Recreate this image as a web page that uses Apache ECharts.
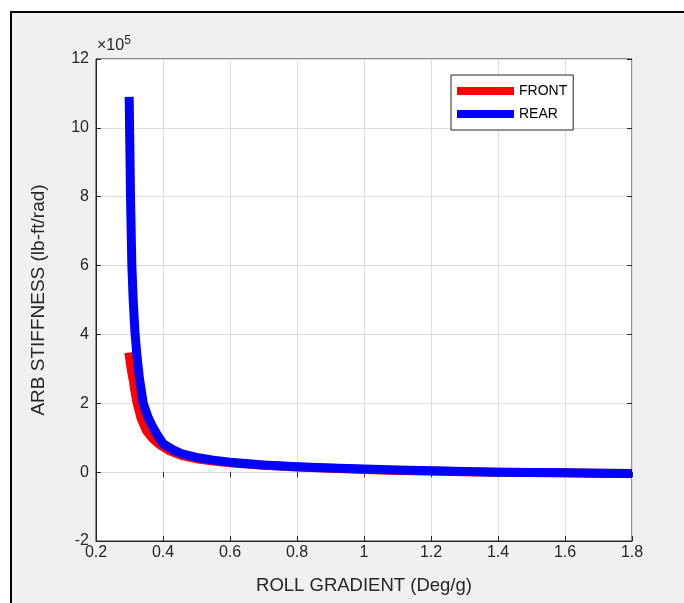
<!DOCTYPE html>
<html lang="en">
  <head>
    <meta charset="UTF-8" />
    <title>ARB stiffness vs roll gradient</title>
    <script src="https://cdn.jsdelivr.net/npm/echarts@6/dist/echarts.min.js"></script>
    <style>
      html, body { margin: 0; padding: 0; background: #fff; overflow: hidden; }
      /* gray figure window with black edge (left + top only visible) */
      #frame {
        position: absolute; left: 10px; top: 11px;
        width: 700px; height: 620px;
        background: #f0f0f0; border: 2px solid #000;
      }
      #main { position: absolute; left: 0; top: 0; width: 684px; height: 603px; }
    </style>
  </head>
  <body>
    <div id="frame"></div>
    <div id="main"></div>
    <script>
      // values, stiffness in units of 1e5 lb-ft/rad
      const rearX = [0.299, 0.301, 0.303, 0.307, 0.311, 0.316, 0.322, 0.33, 0.341, 0.355, 0.37, 0.385, 0.4, 0.43, 0.46, 0.5, 0.55, 0.6, 0.7, 0.8, 0.9, 1.0, 1.1, 1.2, 1.3, 1.4, 1.5, 1.6, 1.7, 1.8];
      const rearY = [10.9, 9.5, 8.0, 6.0, 5.0, 4.1, 3.4, 2.7, 2.0, 1.6, 1.3, 1.05, 0.83, 0.65, 0.52, 0.43, 0.35, 0.29, 0.21, 0.16, 0.12, 0.09, 0.06, 0.04, 0.02, 0.0, -0.01, -0.02, -0.03, -0.04];
      const frontX = [0.298, 0.305, 0.311, 0.317, 0.323, 0.335, 0.351, 0.37, 0.39, 0.42, 0.46, 0.5, 0.55, 0.6, 0.7, 0.8, 0.9, 1.0, 1.1, 1.2, 1.3, 1.4, 1.5, 1.6, 1.7, 1.8];
      const frontY = [3.47, 3.0, 2.68, 2.3, 2.0, 1.55, 1.2, 0.97, 0.8, 0.62, 0.47, 0.39, 0.32, 0.27, 0.2, 0.15, 0.11, 0.08, 0.05, 0.03, 0.01, 0.0, -0.01, -0.02, -0.03, -0.04];

      const ink = "#262626";
      const font = '"Liberation Sans", Arial, Helvetica, sans-serif';

      const pairs = (xs, ys) => xs.map((x, i) => [x, ys[i]]);

      const chart = echarts.init(document.getElementById("main"));

      const option = {
        animation: false,
        textStyle: { fontFamily: font },
        grid: {
          left: 96, right: 52, top: 59, bottom: 62,
          show: true, backgroundColor: "#fff",
          borderColor: ink, borderWidth: 1,
        },
        // exponent label above the y axis, like matlab does
        graphic: [
          {
            type: "text", left: 97, top: 35,
            style: {
              text: "{m|×10}{s|5}",
              rich: {
                m: { fontSize: 16, fill: ink, fontFamily: font },
                s: { fontSize: 12, fill: ink, fontFamily: font, padding: [0, 0, 10, 0] },
              },
            },
          },
        ],
        legend: {
          orient: "vertical",
          left: 451, top: 75,
          padding: [8, 6, 8, 6],
          itemWidth: 57, itemHeight: 8, itemGap: 7,
          icon: "rect",
          backgroundColor: "#fff",
          borderColor: ink, borderWidth: 1,
          textStyle: { fontSize: 14, color: "#000", lineHeight: 16, fontFamily: font },
          data: ["FRONT", "REAR"],
        },
        xAxis: [
          {
            type: "value", min: 0.2, max: 1.8, interval: 0.2,
            name: "ROLL GRADIENT (Deg/g)", nameLocation: "middle", nameGap: 35,
            nameTextStyle: { fontSize: 18.5, color: ink },
            axisLine: { show: true, onZero: false, lineStyle: { color: ink } },
            axisTick: { inside: true, length: 5, lineStyle: { color: ink } },
            axisLabel: { fontSize: 16, color: ink, margin: 4 },
            splitLine: { show: true, lineStyle: { color: "#dcdcdc" } },
          },
          {
            type: "value", position: "top", min: 0.2, max: 1.8, interval: 0.2,
            axisLine: { show: false },
            axisTick: { inside: true, length: 5, lineStyle: { color: ink } },
            axisLabel: { show: false },
            splitLine: { show: false },
          },
        ],
        yAxis: [
          {
            type: "value", min: -2, max: 12, interval: 2,
            name: "ARB STIFFNESS (lb-ft/rad)", nameLocation: "middle", nameGap: 48,
            nameTextStyle: { fontSize: 19, color: ink },
            axisLine: { show: true, onZero: false, lineStyle: { color: ink } },
            axisTick: { inside: true, length: 5, lineStyle: { color: ink } },
            axisLabel: { fontSize: 16, color: ink, margin: 7 },
            splitLine: { show: true, lineStyle: { color: "#dcdcdc" } },
          },
          {
            type: "value", position: "right", min: -2, max: 12, interval: 2,
            axisLine: { show: false },
            axisTick: { inside: true, length: 5, lineStyle: { color: ink } },
            axisLabel: { show: false },
            splitLine: { show: false },
          },
        ],
        series: [
          {
            name: "FRONT", type: "line",
            data: pairs(frontX, frontY),
            showSymbol: false, symbol: "none", smooth: false,
            color: "#ff0000",
            lineStyle: { width: 9, color: "#ff0000", join: "round", cap: "butt" },
            z: 2,
          },
          {
            name: "REAR", type: "line",
            data: pairs(rearX, rearY),
            showSymbol: false, symbol: "none", smooth: false,
            color: "#0000ff",
            lineStyle: { width: 9, color: "#0000ff", join: "round", cap: "butt" },
            z: 3,
          },
        ],
      };

      chart.setOption(option);
    </script>
  </body>
</html>
